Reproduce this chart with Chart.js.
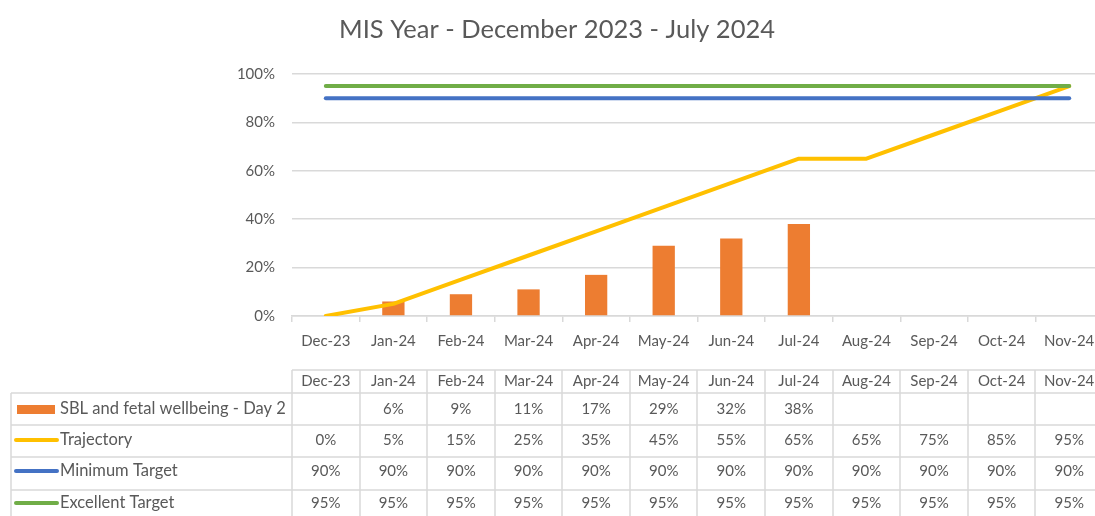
<!DOCTYPE html>
<html>
<head>
<meta charset="utf-8">
<script src="https://cdn.jsdelivr.net/npm/chart.js@4"></script>
<style>
html,body{margin:0;padding:0;background:#fff;overflow:hidden;width:1095px;height:516px;}
#wrap{position:absolute;left:0;top:0;width:1110px;height:516px;}
</style>
</head>
<body>
<div id="wrap"><canvas id="c" width="1110" height="516"></canvas></div>
<script>
const title = 'MIS Year - December 2023 - July 2024';
const categories = ['Dec-23','Jan-24','Feb-24','Mar-24','Apr-24','May-24','Jun-24','Jul-24','Aug-24','Sep-24','Oct-24','Nov-24'];
const sblDay2 = [null,6,9,11,17,29,32,38,null,null,null,null];
const trajectory = [0,5,15,25,35,45,55,65,65,75,85,95];
const minimumTarget = [90,90,90,90,90,90,90,90,90,90,90,90];
const excellentTarget = [95,95,95,95,95,95,95,95,95,95,95,95];
const yTicks = [0,20,40,60,80,100];
const seriesNames = ['SBL and fetal wellbeing - Day 2','Trajectory','Minimum Target','Excellent Target'];

const FONT = 'Lato, "Open Sans", sans-serif';
const TXT = '#595959';
const GRID = '#d9d9d9';
const COLORS = ['#ED7D31','#FFC000','#4472C4','#70AD47'];

const tablePlugin = {
  id: 'tablePlugin',
  afterDraw(chart) {
    const ctx = chart.ctx;
    const xs = chart.scales.x;
    const n = categories.length;
    const step = xs.getPixelForValue(1) - xs.getPixelForValue(0);
    const left0 = xs.getPixelForValue(0) - step/2;
    const right = xs.getPixelForValue(n-1) + step/2;
    ctx.save();
    // title
    ctx.fillStyle = TXT;
    ctx.font = '25.5px ' + FONT;
    ctx.textAlign = 'center';
    ctx.textBaseline = 'middle';
    ctx.fillText(title, 557, 30);

    // table grid
    const headerTop = 370;
    const rowLines = [393, 425, 457, 490, 522];
    const tableLeft = 11;
    ctx.strokeStyle = GRID;
    ctx.lineWidth = 1.5;
    ctx.beginPath();
    ctx.moveTo(left0, headerTop); ctx.lineTo(right, headerTop);
    rowLines.forEach(y => { ctx.moveTo(tableLeft, y); ctx.lineTo(right, y); });
    ctx.moveTo(tableLeft, rowLines[0]); ctx.lineTo(tableLeft, 522);
    for (let i = 0; i <= n; i++) {
      const x = Math.round(left0 + i*step);
      ctx.moveTo(x, headerTop); ctx.lineTo(x, 522);
    }
    ctx.stroke();

    // header
    ctx.font = '15px ' + FONT;
    ctx.fillStyle = TXT;
    ctx.textAlign = 'center';
    categories.forEach((c, i) => ctx.fillText(c, xs.getPixelForValue(i), 381));

    const rows = [sblDay2, trajectory, minimumTarget, excellentTarget];
    const rowY = [409, 440, 471, 503];
    rows.forEach((arr, r) => {
      const y = rowY[r];
      // legend key
      if (r === 0) {
        ctx.fillStyle = COLORS[0];
        ctx.fillRect(17, y - 4, 38, 9);
      } else {
        ctx.strokeStyle = COLORS[r];
        ctx.lineWidth = 4;
        ctx.lineCap = 'round';
        ctx.beginPath(); ctx.moveTo(16, y); ctx.lineTo(57, y); ctx.stroke();
      }
      ctx.fillStyle = TXT;
      ctx.textAlign = 'left';
      ctx.font = '16.5px ' + FONT;
      ctx.fillText(seriesNames[r], 60, y);
      ctx.font = '15px ' + FONT;
      ctx.textAlign = 'center';
      arr.forEach((v, i) => {
        if (v !== null && v !== undefined) ctx.fillText(v + '%', xs.getPixelForValue(i), y);
      });
    });
    ctx.restore();
  }
};

new Chart(document.getElementById('c'), {
  data: {
    labels: categories,
    datasets: [
      { type: 'line', label: seriesNames[3], data: excellentTarget, borderColor: COLORS[3], borderWidth: 4, pointRadius: 0, borderCapStyle: 'round', order: 1 },
      { type: 'line', label: seriesNames[2], data: minimumTarget, borderColor: COLORS[2], borderWidth: 4, pointRadius: 0, borderCapStyle: 'round', order: 2 },
      { type: 'line', label: seriesNames[1], data: trajectory, borderColor: COLORS[1], borderWidth: 4, pointRadius: 0, borderCapStyle: 'round', borderJoinStyle: 'round', order: 3 },
      { type: 'bar', label: seriesNames[0], data: sblDay2, backgroundColor: COLORS[0], barPercentage: 1, categoryPercentage: 0.33, order: 4 }
    ]
  },
  options: {
    responsive: false,
    animation: false,
    devicePixelRatio: 1,
    layout: { padding: { left: 0, right: 7, top: 74, bottom: 0 } },
    plugins: { legend: { display: false }, tooltip: { enabled: false }, title: { display: false } },
    scales: {
      x: {
        offset: true,
        grid: { display: true, offset: true, drawOnChartArea: false, drawTicks: true, tickLength: 6, color: GRID, lineWidth: 1.5 },
        border: { display: true, color: GRID, width: 1.5 },
        ticks: { color: TXT, font: { family: FONT, size: 15 }, padding: 10, maxRotation: 0, autoSkip: false },
        afterFit(s) { s.height = 200; }
      },
      y: {
        min: 0, max: 100,
        afterBuildTicks(s) { s.ticks = yTicks.map(v => ({ value: v })); },
        grid: { color: GRID, drawTicks: false, lineWidth: 1.5 },
        border: { display: false },
        ticks: { color: TXT, font: { family: FONT, size: 15 }, padding: 17, callback: v => v + '%' },
        afterFit(s) { s.width = 292; }
      }
    }
  },
  plugins: [tablePlugin]
});
</script>
</body>
</html>
